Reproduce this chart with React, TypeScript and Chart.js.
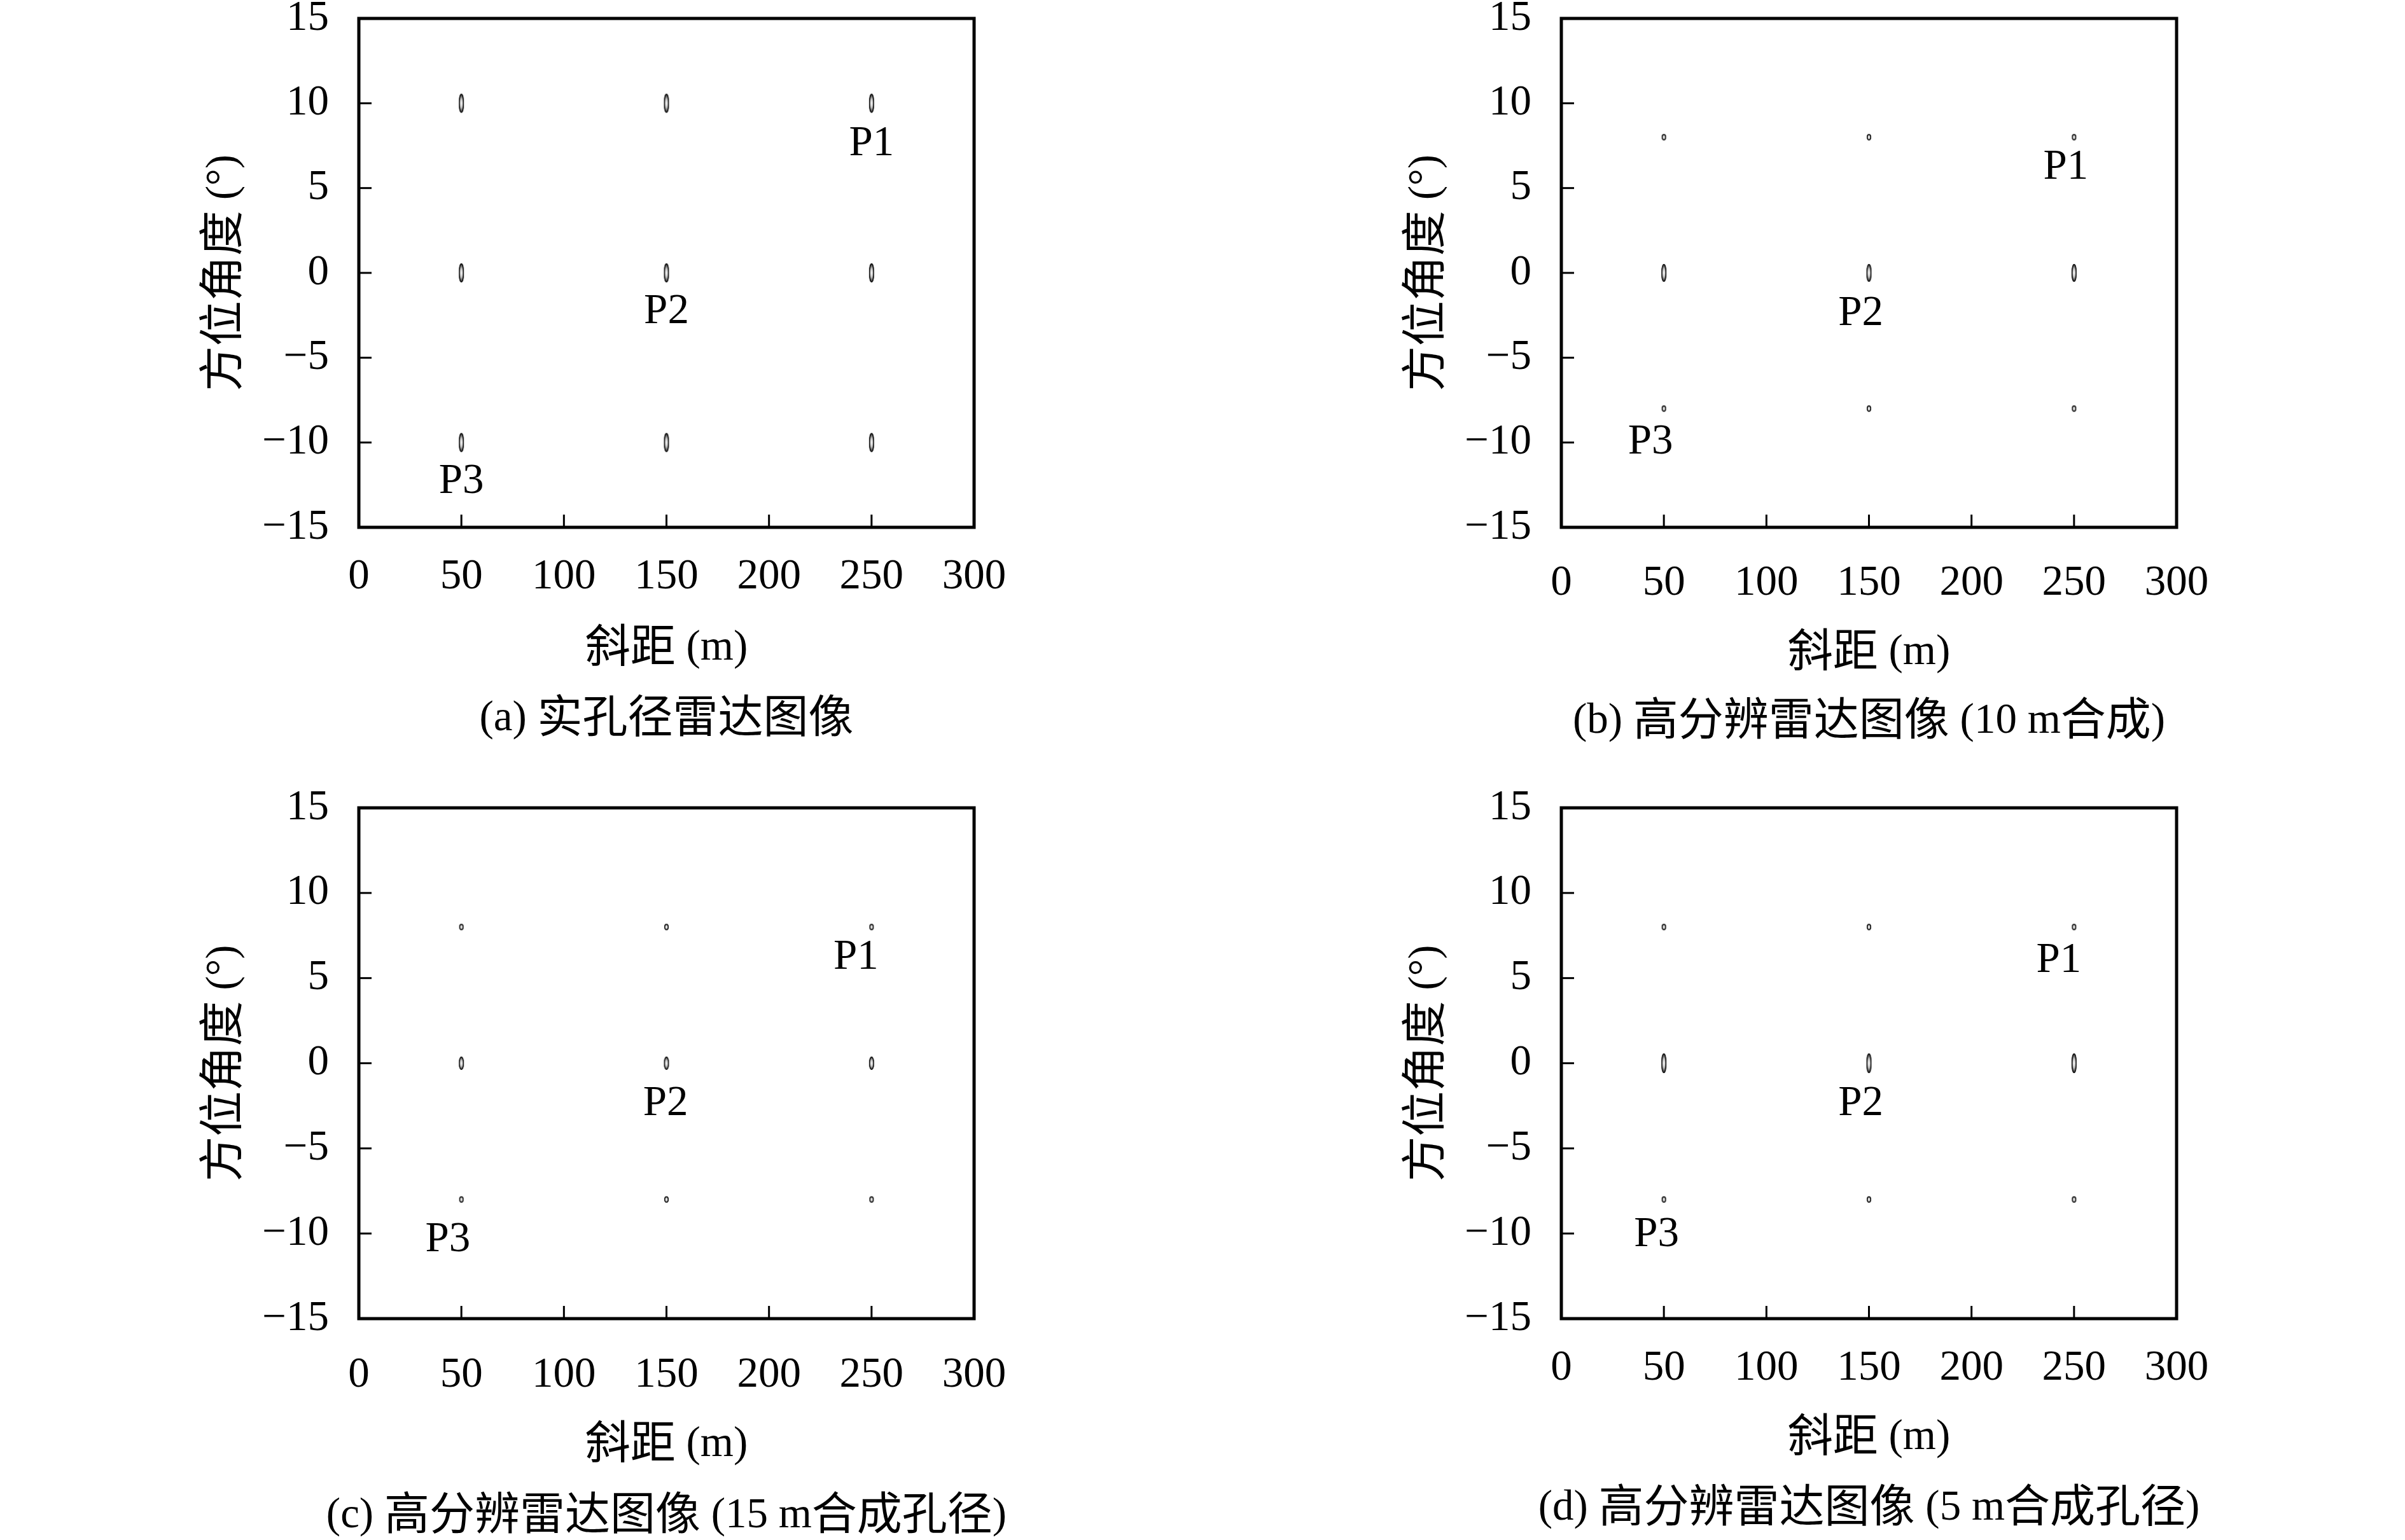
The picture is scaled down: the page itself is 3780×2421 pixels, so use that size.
import React, { useEffect, useRef } from 'react';
import { Chart, registerables } from 'chart.js';

Chart.register(...registerables);

// ---------- data ----------
const rangeTicks = [0, 50, 100, 150, 200, 250, 300];
const azimuthTicks = [-15, -10, -5, 0, 5, 10, 15];
const targetRanges = [50, 150, 250];

const azimuthRowsA = [10, 0, -10];
const azimuthRowsB = [8, 0, -8];
const azimuthRowsC = [8, 0, -8];
const azimuthRowsD = [8, 0, -8];

const pointNames = ['P1', 'P2', 'P3'];
const nameRangeA = [250, 150, 50];
const nameAzimuthA = [7.6, -2.3, -12.3];
const nameRangeB = [246, 146, 43.5];
const nameAzimuthB = [6.2, -2.4, -10.0];
const nameRangeC = [242.4, 149.6, 43.4];
const nameAzimuthC = [6.2, -2.4, -10.4];
const nameRangeD = [242.6, 146, 46.4];
const nameAzimuthD = [6.0, -2.4, -10.1];

const xTitle = '斜距 (m)';
const yTitle = '方位角度 (°)';
const captions = [
  '(a) 实孔径雷达图像',
  '(b) 高分辨雷达图像 (10 m合成)',
  '(c) 高分辨雷达图像 (15 m合成孔径)',
  '(d) 高分辨雷达图像 (5 m合成孔径)',
];

// ---------- styles ----------
const LATIN = "'Liberation Serif', 'DejaVu Serif', serif";
const CJK = "'Noto Sans CJK SC', 'Noto Sans CJK JP', sans-serif";
const LATIN_SIZE = 67;
const CJK_SIZE = 71;

// marker ellipse sizes per row [w, h]
const markerA = [[8, 30], [8, 30], [8, 30]];
const markerB = [[7, 10], [8, 28], [7, 10]];
const markerC = [[7, 10], [8, 21], [7, 10]];
const markerD = [[7, 10], [8, 31], [7, 10]];

type Panel = {
  L: number; R: number; T: number; B: number;
  tickOff: number; titleOff: number; capOff: number;
  rows: number[]; nameX: number[]; nameY: number[];
  marker: number[][]; caption: string;
};

const panels: Panel[] = [
  { L: 564, R: 1531, T: 29, B: 829, tickOff: 78, titleOff: 185, capOff: 296,
    rows: azimuthRowsA, nameX: nameRangeA, nameY: nameAzimuthA, marker: markerA, caption: captions[0] },
  { L: 2454, R: 3421, T: 29, B: 829, tickOff: 88, titleOff: 192, capOff: 300,
    rows: azimuthRowsB, nameX: nameRangeB, nameY: nameAzimuthB, marker: markerB, caption: captions[1] },
  { L: 564, R: 1531, T: 1270, B: 2073, tickOff: 89, titleOff: 193, capOff: 305,
    rows: azimuthRowsC, nameX: nameRangeC, nameY: nameAzimuthC, marker: markerC, caption: captions[2] },
  { L: 2454, R: 3421, T: 1270, B: 2073, tickOff: 78, titleOff: 182, capOff: 293,
    rows: azimuthRowsD, nameX: nameRangeD, nameY: nameAzimuthD, marker: markerD, caption: captions[3] },
];

const Y_SCALE_W = 270;
const PAD_TOP = 140;
const PAD_RIGHT = 160;
const X_SCALE_H = 120;
const BOTTOM_EXTRA = 60;

const fmt = (v: any) => String(v).replace('-', '\u2212');

function makeMarker(w: number, h: number): HTMLCanvasElement {
  const c = document.createElement('canvas');
  c.width = w + 2;
  c.height = h + 2;
  const g = c.getContext('2d')!;
  const cx = c.width / 2;
  const cy = c.height / 2;
  g.save();
  g.translate(cx, cy);
  g.scale(1, h / w);
  const grad = g.createRadialGradient(0, 0, 0, 0, 0, w / 2);
  grad.addColorStop(0, '#ffffff');
  grad.addColorStop(0.45, '#c8c8c8');
  grad.addColorStop(1, '#111111');
  g.fillStyle = grad;
  g.beginPath();
  g.arc(0, 0, w / 2, 0, Math.PI * 2);
  g.fill();
  g.restore();
  g.strokeStyle = '#111';
  g.lineWidth = 1.4;
  g.beginPath();
  g.ellipse(cx, cy, w / 2 - 0.7, h / 2 - 0.7, 0, 0, Math.PI * 2);
  g.stroke();
  return c;
}

const isCJK = (ch: string) => /[\u3000-\u303f\u3400-\u9fff\uff00-\uffef]/.test(ch);

function splitRuns(text: string) {
  const runs: { t: string; cjk: boolean }[] = [];
  for (const ch of text) {
    const c = isCJK(ch);
    if (runs.length && runs[runs.length - 1].cjk === c) runs[runs.length - 1].t += ch;
    else runs.push({ t: ch, cjk: c });
  }
  return runs;
}

function drawMixed(ctx: CanvasRenderingContext2D, text: string, cx: number, cy: number) {
  const runs = splitRuns(text);
  const fonts = runs.map(r => (r.cjk ? `${CJK_SIZE}px ${CJK}` : `${LATIN_SIZE}px ${LATIN}`));
  let total = 0;
  const widths = runs.map((r, i) => {
    ctx.font = fonts[i];
    const w = ctx.measureText(r.t).width;
    total += w;
    return w;
  });
  let x = cx - total / 2;
  const baseline = cy + LATIN_SIZE * 0.34;
  ctx.textAlign = 'left';
  ctx.textBaseline = 'alphabetic';
  ctx.fillStyle = '#000';
  runs.forEach((r, i) => {
    ctx.font = fonts[i];
    ctx.fillText(r.t, x, r.cjk ? baseline + 3 : baseline);
    x += widths[i];
  });
}

function makeDecor(p: Panel) {
  return {
    id: 'decor',
    afterDraw(chart: any) {
      const { ctx, chartArea: a, scales } = chart;
      ctx.save();
      ctx.strokeStyle = '#000';
      // inward ticks
      ctx.lineWidth = 3;
      for (const v of rangeTicks) {
        const px = scales.x.getPixelForValue(v);
        ctx.beginPath();
        ctx.moveTo(px, a.bottom);
        ctx.lineTo(px, a.bottom - 20);
        ctx.stroke();
      }
      for (const v of azimuthTicks) {
        const py = scales.y.getPixelForValue(v);
        ctx.beginPath();
        ctx.moveTo(a.left, py);
        ctx.lineTo(a.left + 20, py);
        ctx.stroke();
      }
      // frame
      ctx.lineWidth = 5;
      ctx.strokeRect(a.left, a.top, a.right - a.left, a.bottom - a.top);
      // point names
      ctx.fillStyle = '#000';
      ctx.font = `${LATIN_SIZE}px ${LATIN}`;
      ctx.textAlign = 'center';
      ctx.textBaseline = 'middle';
      pointNames.forEach((n, i) => {
        ctx.fillText(n, scales.x.getPixelForValue(p.nameX[i]), scales.y.getPixelForValue(p.nameY[i]));
      });
      // x title
      const midX = (a.left + a.right) / 2;
      drawMixed(ctx, xTitle, midX, a.bottom + p.titleOff);
      // caption
      drawMixed(ctx, p.caption, midX, a.bottom + p.capOff);
      // y title
      ctx.save();
      ctx.translate(a.left - 217, (a.top + a.bottom) / 2);
      ctx.rotate(-Math.PI / 2);
      drawMixed(ctx, yTitle, 0, 0);
      ctx.restore();
      ctx.restore();
    },
  };
}

function PanelChart({ p }: { p: Panel }) {
  const ref = useRef<HTMLCanvasElement>(null);
  const width = p.R - p.L + Y_SCALE_W + PAD_RIGHT;
  const height = p.B - p.T + PAD_TOP + p.capOff + BOTTOM_EXTRA;
  useEffect(() => {
    const canvas = ref.current!;
    const markers = p.marker.map(([w, h]) => makeMarker(w, h));
    const data = p.rows.flatMap(az => targetRanges.map(x => ({ x, y: az })));
    const styles = p.rows.flatMap((_, r) => targetRanges.map(() => markers[r]));
    const tickFont = { family: LATIN, size: LATIN_SIZE, lineHeight: 1.2 };
    const chart = new Chart(canvas, {
      type: 'scatter',
      data: {
        datasets: [{
          data,
          pointStyle: styles as any,
          pointRadius: 4,
          showLine: false,
          backgroundColor: '#888',
          borderColor: '#333',
        }],
      },
      options: {
        animation: false,
        responsive: false,
        maintainAspectRatio: false,
        events: [],
        layout: { padding: { top: PAD_TOP, right: PAD_RIGHT, left: 0, bottom: p.capOff + BOTTOM_EXTRA - X_SCALE_H } },
        plugins: { legend: { display: false }, tooltip: { enabled: false }, title: { display: false } },
        scales: {
          x: {
            type: 'linear', position: 'bottom', min: 0, max: 300,
            afterBuildTicks: (s: any) => { s.ticks = rangeTicks.map(v => ({ value: v })); },
            afterFit: (s: any) => { s.height = X_SCALE_H; },
            grid: { display: false, drawTicks: false },
            border: { display: false },
            ticks: {
              padding: p.tickOff - LATIN_SIZE * 0.6,
              font: tickFont, color: '#000', maxRotation: 0, minRotation: 0, autoSkip: false,
              callback: fmt,
            },
          },
          y: {
            type: 'linear', position: 'left', min: -15, max: 15,
            afterBuildTicks: (s: any) => { s.ticks = azimuthTicks.map(v => ({ value: v })); },
            afterFit: (s: any) => { s.width = Y_SCALE_W; },
            grid: { display: false, drawTicks: false },
            border: { display: false },
            ticks: { padding: 47, font: tickFont, color: '#000', autoSkip: false, callback: fmt },
          },
        },
      } as any,
      plugins: [makeDecor(p)],
    });
    return () => chart.destroy();
  }, [p]);
  return (
    <canvas
      ref={ref}
      width={width}
      height={height}
      style={{ position: 'absolute', left: p.L - Y_SCALE_W, top: p.T - PAD_TOP, width, height, display: 'block' }}
    />
  );
}

export default function App() {
  return (
    <div style={{ position: 'absolute', left: 0, top: 0, width: 3780, height: 2421, background: '#fff', overflow: 'hidden' }}>
      {panels.map((p, i) => <PanelChart key={i} p={p} />)}
    </div>
  );
}
